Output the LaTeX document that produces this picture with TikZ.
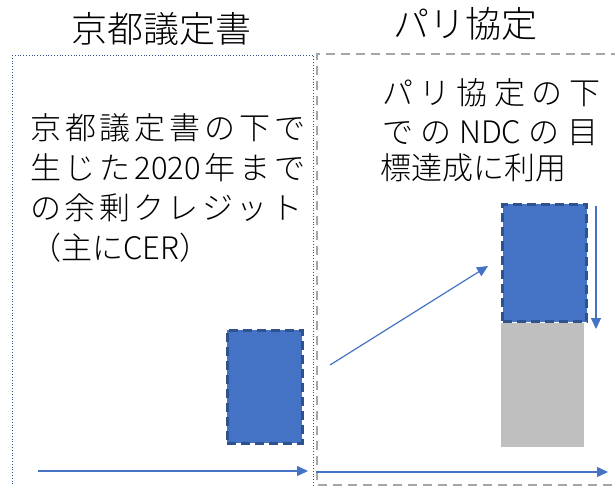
\documentclass[tikz,border=0pt]{standalone}
\usepackage{fontspec}
\newfontfamily\jp{Noto Sans CJK JP Light}
\usetikzlibrary{arrows.meta}
\definecolor{myblue}{HTML}{4472C4}
\definecolor{mydark}{HTML}{2F528F}
\definecolor{mygray}{HTML}{BFBFBF}
\definecolor{boxgray}{HTML}{A6A6A6}
\tikzset{
  txt/.style={inner sep=0pt, anchor=base west, font=\jp\fontsize{31}{31}\selectfont},
  ttl/.style={inner sep=0pt, anchor=base, font=\jp\fontsize{36}{36}\selectfont},
  blk/.style={fill=myblue, draw=mydark, line width=3pt, dash pattern=on 9pt off 5pt},
  arr/.style={draw=myblue, line width=1.2pt, -{Triangle[length=11pt,width=10pt]}}
}
\begin{document}
\begin{tikzpicture}[x=1pt,y=-1pt]
\useasboundingbox (0,0) rectangle (615,486);
% frames
\draw[mydark, dotted, line width=0.8pt] (12,55) -- (313,55) -- (313,490);
\draw[mydark, dotted, line width=0.8pt] (12,55) -- (12,490);
\draw[boxgray, line width=1.8pt, dash pattern=on 9pt off 6pt] (620,54) -- (317,54) -- (317,485) -- (620,485);
% titles
\node[ttl] (t1) at (161,43) {京都議定書};
\node[ttl] (t2) at (465,38) {パリ協定};
% left text
\node[txt] (l1) at (30,140) {\makebox[275pt][s]{京\hfill 都\hfill 議\hfill 定\hfill 書\hfill の\hfill 下\hfill で}};
\node[txt] (l2) at (30,180) {\makebox[275pt][s]{生\hfill じ\hfill た\hfill 2020\hfill 年\hfill ま\hfill で}};
\node[txt] (l3) at (30,219) {\makebox[272pt][s]{の\hfill 余\hfill 剰\hfill ク\hfill レ\hfill ジ\hfill ッ\hfill ト}};
\node[txt] (l4) at (30,259) {（主にCER）};
% right text
\node[txt] (r1) at (382,105) {\makebox[218pt][s]{パ\hfill リ\hfill 協\hfill 定\hfill の\hfill 下}};
\node[txt] (r2) at (382,144) {\makebox[216pt][s]{で\hfill の\hfill NDC\hfill の\hfill 目}};
\node[txt] (r3) at (380,180) {標達成に利用};
% blocks
\node[blk, minimum width=75pt, minimum height=113pt, inner sep=0pt] (b1) at (264.5,386.5) {};
\node[fill=mygray, minimum width=83pt, minimum height=124pt, inner sep=0pt, anchor=north west] (g) at (501,323) {};
\node[blk, minimum width=84pt, minimum height=117pt, inner sep=0pt, anchor=south west] (b2) at (501,323) {};
% arrows
\coordinate (d1) at (596,206);
\coordinate (d2) at (596,329);
\draw[arr] (d1) -- (d2);
\coordinate (a1) at (330,365);
\coordinate (a2) at (488,266);
\draw[arr] (a1) -- (a2);
\coordinate (h1) at (38,471);
\coordinate (h2) at (308,471);
\draw[arr] (h1) -- (h2);
\coordinate (h3) at (316,472);
\coordinate (h4) at (608,472);
\draw[arr] (h3) -- (h4);
\end{tikzpicture}
\end{document}
